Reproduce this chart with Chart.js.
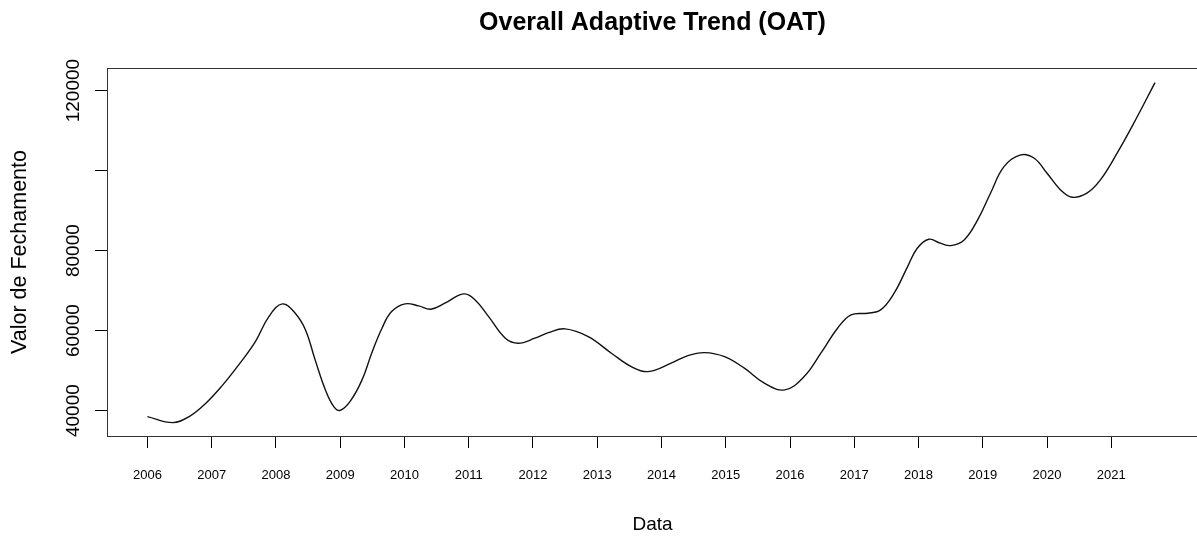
<!DOCTYPE html>
<html>
<head>
<meta charset="utf-8">
<title>Overall Adaptive Trend (OAT)</title>
<script src="https://cdn.jsdelivr.net/npm/chart.js@4/dist/chart.umd.min.js"></script>
<style>
    html, body { margin: 0; padding: 0; overflow: hidden; background: #fff; }
    #wrap { width: 1200px; height: 538px; }
</style>
</head>
<body>
<div id="wrap"><canvas id="oatChart"></canvas></div>
<script>
// trend curve, decimal year vs closing value
const years = [2006.00, 2006.39, 2006.65, 2006.91, 2007.16, 2007.42, 2007.68, 2007.89, 2008.10, 2008.30,
    2008.46, 2008.61, 2008.77, 2008.90, 2009.00, 2009.16, 2009.34, 2009.49, 2009.65, 2009.80,
    2010.01, 2010.22, 2010.41, 2010.63, 2010.92, 2011.10, 2011.31, 2011.57, 2011.77, 2012.03,
    2012.24, 2012.50, 2012.86, 2013.22, 2013.53, 2013.79, 2014.15, 2014.41, 2014.67, 2014.98,
    2015.29, 2015.60, 2015.92, 2016.22, 2016.48, 2016.74, 2016.95, 2017.21, 2017.41, 2017.62,
    2017.83, 2017.98, 2018.16, 2018.34, 2018.50, 2018.71, 2018.92, 2019.12, 2019.33, 2019.59,
    2019.80, 2020.00, 2020.21, 2020.39, 2020.62, 2020.83, 2021.09, 2021.35, 2021.68];
const closeValues = [38500, 37000, 38500, 41850, 46175, 51425, 57250, 63500, 66675, 64350,
    60175, 52675, 45175, 41000, 40050, 42425, 47675, 54350, 60600, 64750,
    66675, 66175, 65350, 66850, 69175, 67675, 63500, 58100, 56850, 58100,
    59500, 60425, 58500, 54350, 51000, 49750, 51850, 53750, 54500, 53500,
    50600, 46850, 45175, 48500, 54350, 60600, 63925, 64350, 65175, 69350,
    76000, 80600, 82850, 81850, 81250, 82675, 87675, 94350, 101000, 103925,
    103100, 99350, 95175, 93350, 94350, 97675, 104350, 111850, 122000];

const tickYears = [2006, 2007, 2008, 2009, 2010, 2011, 2012, 2013, 2014, 2015, 2016, 2017, 2018, 2019, 2020, 2021];
const yTickValues = [40000, 60000, 80000, 100000, 120000];
const yTickLabels = ['40000', '60000', '80000', '', '120000'];

const fontFamily = '"Liberation Sans", Arial, Helvetica, sans-serif';

const points = years.map((yr, i) => ({x: yr, y: closeValues[i]}));

const ctx = document.getElementById('oatChart');
const oatChart = new Chart(ctx, {
    type: 'line',
    data: {
        datasets: [{
            data: points,
            borderColor: '#111111',
            borderWidth: 1.4,
            pointRadius: 0,
            fill: false,
            tension: 0.4
        }]
    },
    options: {
        responsive: true,
        maintainAspectRatio: false,
        animation: false,
        layout: {
            padding: {left: 0, right: 2, top: 0, bottom: 0}
        },
        scales: {
            x: {
                type: 'linear',
                position: 'bottom',
                min: 2005.371,
                max: 2022.349,
                afterBuildTicks: (scale) => {
                    scale.ticks = tickYears.map(v => ({value: v}));
                },
                afterFit: (scale) => { scale.height = 102; },
                ticks: {
                    autoSkip: false,
                    maxRotation: 0,
                    padding: 20,
                    color: '#000',
                    font: {family: fontFamily, size: 13},
                    callback: (val) => String(val)
                },
                grid: {
                    display: true,
                    drawOnChartArea: false,
                    drawTicks: true,
                    tickLength: 12,
                    color: '#000',
                    lineWidth: 1
                },
                border: {display: true, color: '#333', width: 1},
                title: {
                    display: true,
                    text: 'Data',
                    color: '#000',
                    font: {family: fontFamily, size: 19},
                    padding: {top: 0, bottom: 2}
                }
            },
            xTop: {
                type: 'linear',
                position: 'top',
                min: 2005.371,
                max: 2022.349,
                afterFit: (scale) => { scale.height = 0; },
                ticks: {display: false},
                grid: {display: false, drawTicks: false},
                border: {display: true, color: '#333', width: 1}
            },
            y: {
                type: 'linear',
                position: 'left',
                min: 33650,
                max: 125650,
                afterBuildTicks: (scale) => {
                    scale.ticks = yTickValues.map(v => ({value: v}));
                },
                afterFit: (scale) => { scale.width = 107; },
                ticks: {
                    minRotation: 90,
                    maxRotation: 90,
                    crossAlign: 'center',
                    padding: -10,
                    color: '#000',
                    font: {family: fontFamily, size: 19},
                    callback: (val, index) => yTickLabels[index]
                },
                grid: {
                    display: true,
                    drawOnChartArea: false,
                    drawTicks: true,
                    tickLength: 12,
                    color: '#000',
                    lineWidth: 1
                },
                border: {display: true, color: '#333', width: 1},
                title: {
                    display: true,
                    text: 'Valor de Fechamento',
                    color: '#000',
                    font: {family: fontFamily, size: 21.5},
                    padding: {top: 7, bottom: 0}
                }
            }
        },
        plugins: {
            legend: {display: false},
            tooltip: {enabled: false},
            title: {
                display: true,
                fullSize: false,
                text: 'Overall Adaptive Trend (OAT)',
                color: '#000',
                font: {family: fontFamily, size: 25, weight: 'bold', lineHeight: 1.2},
                padding: {top: 8, bottom: 30}
            }
        }
    }
});
</script>
</body>
</html>
